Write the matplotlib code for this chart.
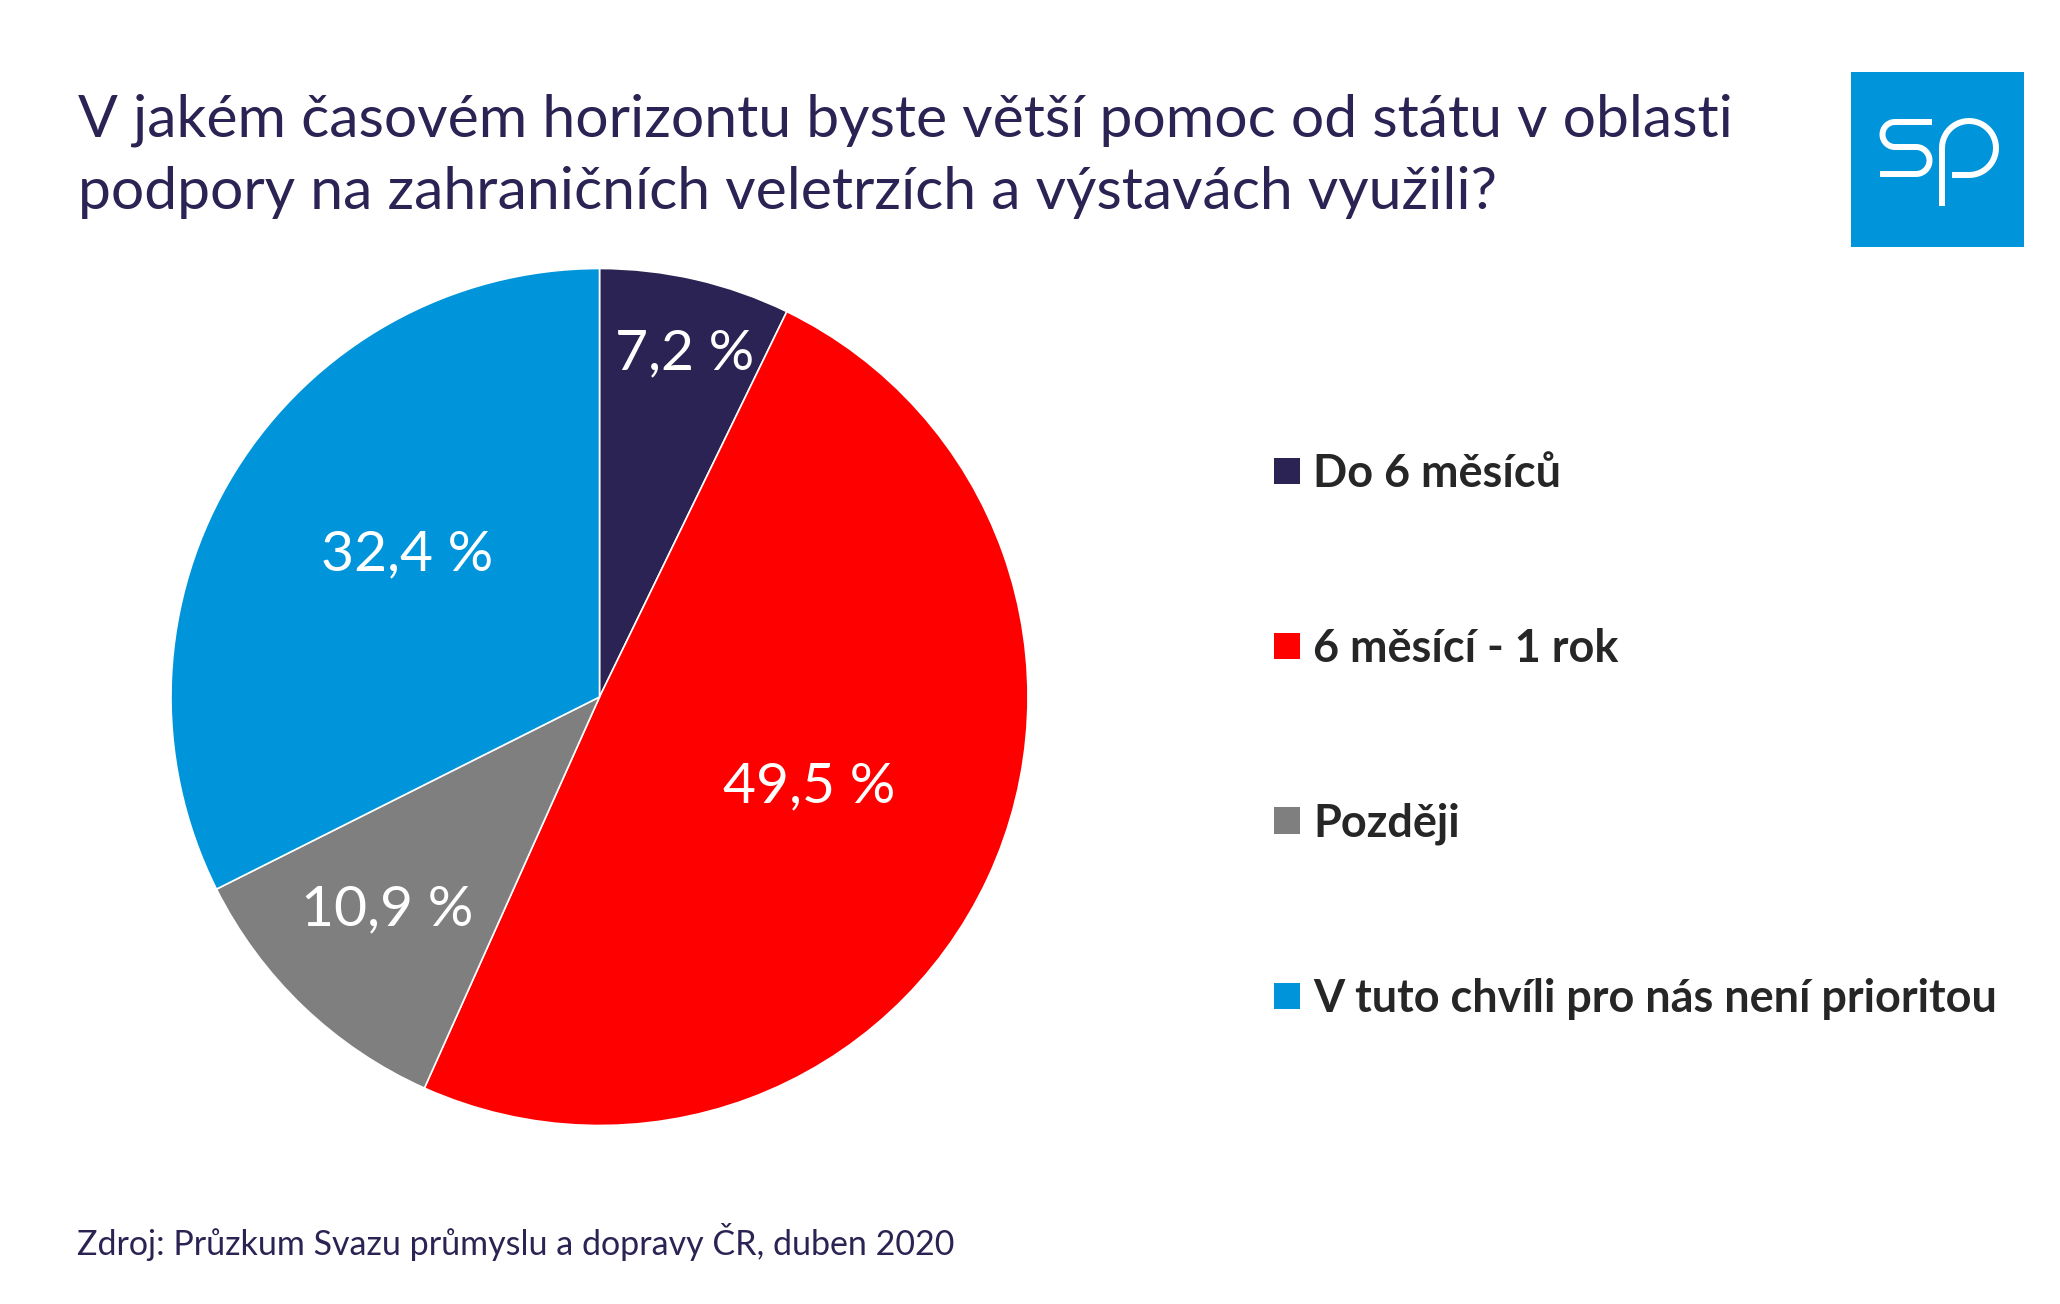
# -*- coding: utf-8 -*-
import numpy as np
import matplotlib
matplotlib.use('Agg')
import matplotlib.pyplot as plt

W, H = 2060, 1304

title = 'V jakém časovém horizontu byste větší pomoc od státu v oblasti\npodpory na zahraničních veletrzích a výstavách využili?'
source = 'Zdroj: Průzkum Svazu průmyslu a dopravy ČR, duben 2020'
categories = ['Do 6 měsíců', '6 měsící - 1 rok', 'Později', 'V tuto chvíli pro nás není prioritou']
values = [7.2, 49.5, 10.9, 32.4]
colors = ['#2A2353', '#FF0000', '#7F7F7F', '#0095DA']

navy = '#2A2353'
plt.rcParams['font.family'] = ['Lato', 'DejaVu Sans']

fig = plt.figure(figsize=(W / 100, H / 100), dpi=100, facecolor='white')

# background axes in pixel coordinates, for the texts and the logo
bg = fig.add_axes([0, 0, 1, 1])
bg.set_xlim(0, W)
bg.set_ylim(H, 0)
bg.axis('off')

# pie
cx, cy, r = 599.5, 697, 428.5
ax = fig.add_axes([(cx - r) / W, 1 - (cy + r) / H, 2 * r / W, 2 * r / H])
wedges, _ = ax.pie(values, colors=colors, startangle=90, counterclock=False, radius=1,
                   wedgeprops={'edgecolor': 'white', 'linewidth': 1.2})
ax.set_xlim(-1, 1)
ax.set_ylim(-1, 1)

# value labels, decimal comma like in the original
label_xy = [(685, 354), (809, 787), (387, 910), (407, 555)]
for v, (lx, ly) in zip(values, label_xy):
    ax.text(lx, ly, '{:.1f} %'.format(v).replace('.', ','), transform=bg.transData,
            color='white', fontsize=41, ha='center', va='center')

bg.text(78, 209, title, color=navy, fontsize=42.4, va='baseline', ha='left', linespacing=1.45)
bg.text(77, 1255, source, color=navy, fontsize=24.5, va='baseline', ha='left')

# legend
leg = bg.legend(wedges, categories, loc='upper left', bbox_to_anchor=(1274 / W, 1 - 453 / H),
                bbox_transform=fig.transFigure, frameon=False, fontsize=32.4,
                labelspacing=2.95, handlelength=0.58, handleheight=0.515, handletextpad=0.29,
                borderpad=0, borderaxespad=0)
for t in leg.get_texts():
    t.set_color('#262626')
    t.set_fontweight('bold')
for h in leg.get_patches():
    h.set_edgecolor('none')

# logo
bg.add_patch(plt.Rectangle((1851, 72), 173, 175, facecolor='#0095DA', edgecolor='none'))

def arc(x0, y0, rad, a0, a1):
    a = np.deg2rad(np.linspace(a0, a1, 40))
    return list(x0 + rad * np.cos(a)), list(y0 + rad * np.sin(a))

# the s
ax1, ay1 = arc(1895, 134.5, 12.5, 270, 90)
ax2, ay2 = arc(1916, 160.5, 13.5, -90, 90)
xs = [1932] + ax1 + ax2 + [1880]
ys = [122] + ay1 + ay2 + [174]
bg.plot(xs, ys, color='white', lw=4.3, solid_capstyle='butt')
# the p
px, py = arc(1969, 148, 27, 180, 450)
xs = [1942] + px + [1952]
ys = [206] + py + [175]
bg.plot(xs, ys, color='white', lw=4.3, solid_capstyle='butt')

fig.savefig('out.png', dpi=100)
